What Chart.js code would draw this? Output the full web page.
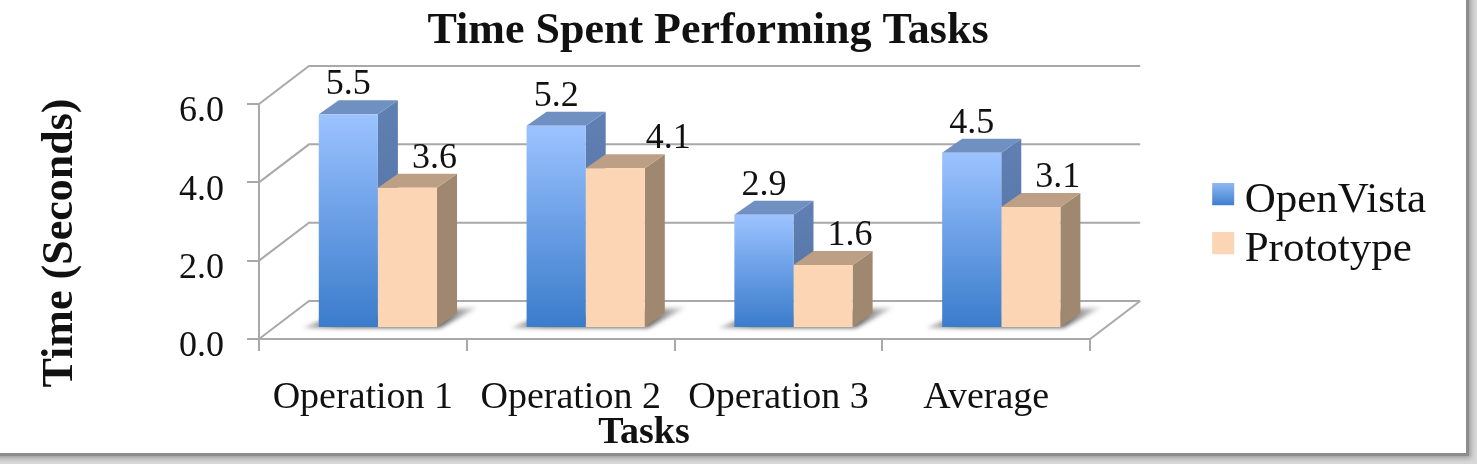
<!DOCTYPE html>
<html>
<head>
<meta charset="utf-8">
<title>Time Spent Performing Tasks</title>
<script src="https://cdn.jsdelivr.net/npm/chart.js@4"></script>
<style>
  html, body { margin: 0; padding: 0; background: #d8d8d8; overflow: hidden; }
  #sheet { position: absolute; left: -8px; top: -8px; width: 1474px; height: 461px; background: #fff;
           box-shadow: 0 0 0 3px #8c8c8c, 3px 3px 5px 2px #9a9a9a; }
  #myChart { position: absolute; left: 0; top: 0; }
</style>
</head>
<body>
<div id="sheet"></div>
<canvas id="myChart" width="1477" height="464"></canvas>
<script>
const categories = ['Operation 1', 'Operation 2', 'Operation 3', 'Average'];
const openVista = [5.5, 5.2, 2.9, 4.5];
const prototypeTimes = [3.6, 4.1, 1.6, 3.1];
const yTicks = [0, 2, 4, 6];

const serif = '"Liberation Serif", serif';
const gridColor = '#a9a9a9';
const wallX = 50, wallY = 38;      // how far the back wall sits behind the axes
const barShift = 15;               // bars stand in the middle of the floor
const depthX = 20, depthY = 14;    // depth of each box
const prototypeLabelShift = [27, 53, 27, 27];

const faces = [
    { side: ['#5f7fb2', '#4f6f9f'], top: '#7090c2' },
    { side: ['#a08870', '#a08870'], top: '#bc9f84' }
];

function box(ctx, pts, fill) {
    ctx.beginPath();
    pts.forEach((p, i) => i ? ctx.lineTo(p[0], p[1]) : ctx.moveTo(p[0], p[1]));
    ctx.closePath();
    ctx.fillStyle = fill;
    ctx.fill();
}

function label(ctx, text, x, y, font, rotate) {
    ctx.save();
    ctx.translate(x, y);
    if (rotate) ctx.rotate(-Math.PI / 2);
    ctx.font = font;
    ctx.fillStyle = '#111';
    ctx.textAlign = 'center';
    ctx.textBaseline = 'alphabetic';
    ctx.fillText(text, 0, 0);
    ctx.restore();
}

// legend swatch as a small canvas, placed inside it so it lines up with the text
function swatch(top, bottom) {
    const c = document.createElement('canvas');
    c.width = 36;
    c.height = 36;
    const x = c.getContext('2d');
    const g = x.createLinearGradient(0, 0, 0, 22);
    g.addColorStop(0, top);
    g.addColorStop(1, bottom);
    x.fillStyle = g;
    x.fillRect(10, 0, 22, 22);
    return c;
}

const walls = {
    id: 'walls',
    beforeDatasetsDraw(chart) {
        const ctx = chart.ctx, a = chart.chartArea, y = chart.scales.y;
        ctx.save();
        ctx.strokeStyle = gridColor;
        ctx.lineWidth = 2;
        yTicks.forEach(t => {
            const py = y.getPixelForValue(t);
            ctx.beginPath();
            ctx.moveTo(a.left, py);
            ctx.lineTo(a.left + wallX, py - wallY);
            ctx.lineTo(a.right + wallX, py - wallY);
            ctx.stroke();
        });
        // front edge of the floor, on the right
        ctx.beginPath();
        ctx.moveTo(a.right, a.bottom);
        ctx.lineTo(a.right + wallX, a.bottom - wallY);
        ctx.stroke();
        ctx.restore();
    }
};

const boxes = {
    id: 'boxes',
    beforeDatasetsDraw(chart) {
        const ctx = chart.ctx;
        const m0 = chart.getDatasetMeta(0).data, m1 = chart.getDatasetMeta(1).data;
        ctx.save();
        ctx.translate(barShift, 0);

        // floor shadows
        m0.forEach((b, i) => {
            const left = b.x - b.width / 2, right = m1[i].x + m1[i].width / 2, base = b.base;
            ctx.save();
            ctx.filter = 'blur(2px)';
            const g = ctx.createLinearGradient(left - 15, 0, right + 42, 0);
            g.addColorStop(0, 'rgba(70,70,70,0.35)');
            g.addColorStop(0.2, 'rgba(70,70,70,0.8)');
            g.addColorStop(0.8, 'rgba(70,70,70,0.8)');
            g.addColorStop(1, 'rgba(70,70,70,0.1)');
            box(ctx, [[left - 16, base + 1], [left + 6, base - 8], [right + 42, base - 20], [right + 3, base + 1]], g);
            ctx.restore();
        });

        // sides and tops, blue pair first so the peach boxes cover them
        [m0, m1].forEach((bars, d) => {
            bars.forEach(b => {
                const l = b.x - b.width / 2, r = b.x + b.width / 2;
                const g = ctx.createLinearGradient(0, b.y, 0, b.base);
                g.addColorStop(0, faces[d].side[0]);
                g.addColorStop(1, faces[d].side[1]);
                box(ctx, [[r, b.y], [r + depthX, b.y - depthY], [r + depthX, b.base - depthY], [r, b.base]], g);
                box(ctx, [[l, b.y], [l + depthX, b.y - depthY], [r + depthX, b.y - depthY], [r, b.y]], faces[d].top);
            });
        });
    },
    afterDatasetsDraw(chart) {
        const ctx = chart.ctx;
        ctx.restore();
        const font = '36px ' + serif;
        chart.getDatasetMeta(0).data.forEach((b, i) => {
            label(ctx, openVista[i].toFixed(1), b.x + barShift, b.y - 20, font);
        });
        chart.getDatasetMeta(1).data.forEach((b, i) => {
            label(ctx, prototypeTimes[i].toFixed(1), b.x + barShift + prototypeLabelShift[i], b.y - 20, font);
        });
    }
};

const headings = {
    id: 'headings',
    afterDraw(chart) {
        const ctx = chart.ctx;
        label(ctx, 'Time Spent Performing Tasks', 708, 43, 'bold 44px ' + serif);
        label(ctx, 'Time (Seconds)', 72, 243, 'bold 44px ' + serif, true);
        label(ctx, 'Tasks', 644, 443, 'bold 38px ' + serif);
    }
};

function blueFill(c) {
    const yb = c.chart.scales.yBars;
    if (c.dataIndex === undefined || !yb || !c.chart.chartArea) return '#6a9fe6';
    const g = c.chart.ctx.createLinearGradient(0, yb.getPixelForValue(openVista[c.dataIndex]), 0, yb.getPixelForValue(0));
    g.addColorStop(0, '#9cc3ff');
    g.addColorStop(0.45, '#6ea2e8');
    g.addColorStop(1, '#3b7ccb');
    return g;
}

const data = {
    labels: categories,
    datasets: [
        { label: 'OpenVista', data: openVista, backgroundColor: blueFill, yAxisID: 'yBars', clip: false },
        { label: 'Prototype', data: prototypeTimes, backgroundColor: '#fcd5b5', yAxisID: 'yBars', clip: false }
    ]
};

const config = {
    type: 'bar',
    data: data,
    plugins: [walls, boxes, headings],
    options: {
        responsive: false,
        animation: false,
        layout: { padding: { top: 104, left: 0, right: 41, bottom: 0 } },
        categoryPercentage: 0.569,
        barPercentage: 1,
        plugins: {
            tooltip: { enabled: false },
            legend: {
                position: 'right',
                fullSize: false,
                title: { display: true, text: ' ', padding: 0, font: { size: 7 } },
                labels: {
                    font: { family: serif, size: 43 },
                    usePointStyle: true,
                    boxWidth: 6,
                    pointStyleWidth: 6,
                    padding: 6,
                    generateLabels() {
                        return [
                            { text: 'OpenVista', fontColor: '#111', pointStyle: swatch('#8fb8f2', '#3f7fcf'), datasetIndex: 0 },
                            { text: 'Prototype', fontColor: '#111', pointStyle: swatch('#fcd5b5', '#fcd5b5'), datasetIndex: 1 }
                        ];
                    }
                }
            }
        },
        scales: {
            x: {
                grid: { drawOnChartArea: false, color: gridColor, lineWidth: 2, tickLength: 12 },
                border: { color: gridColor, width: 2 },
                ticks: { color: '#111', font: { family: serif, size: 38 }, padding: 24, maxRotation: 0, autoSkip: false },
                afterFit(s) { s.height = 125; }
            },
            y: {
                min: 0,
                max: 6,
                grid: { drawOnChartArea: false, color: gridColor, lineWidth: 2, tickLength: 12 },
                border: { color: gridColor, width: 2 },
                afterBuildTicks(s) { s.ticks = yTicks.map(v => ({ value: v })); },
                ticks: { color: '#111', font: { family: serif, size: 36 }, padding: 23, labelOffset: 8, callback: v => v.toFixed(1) },
                afterFit(s) { s.width = 259; }
            },
            // the bars stand further back than the front axis, so they get their own scale
            yBars: {
                position: 'right',
                min: -0.31,
                max: 5.762,
                grid: { display: false },
                border: { display: false },
                ticks: { display: false },
                afterFit(s) { s.width = 121; }
            }
        }
    }
};

const myChart = new Chart(document.getElementById('myChart'), config);
</script>
</body>
</html>
